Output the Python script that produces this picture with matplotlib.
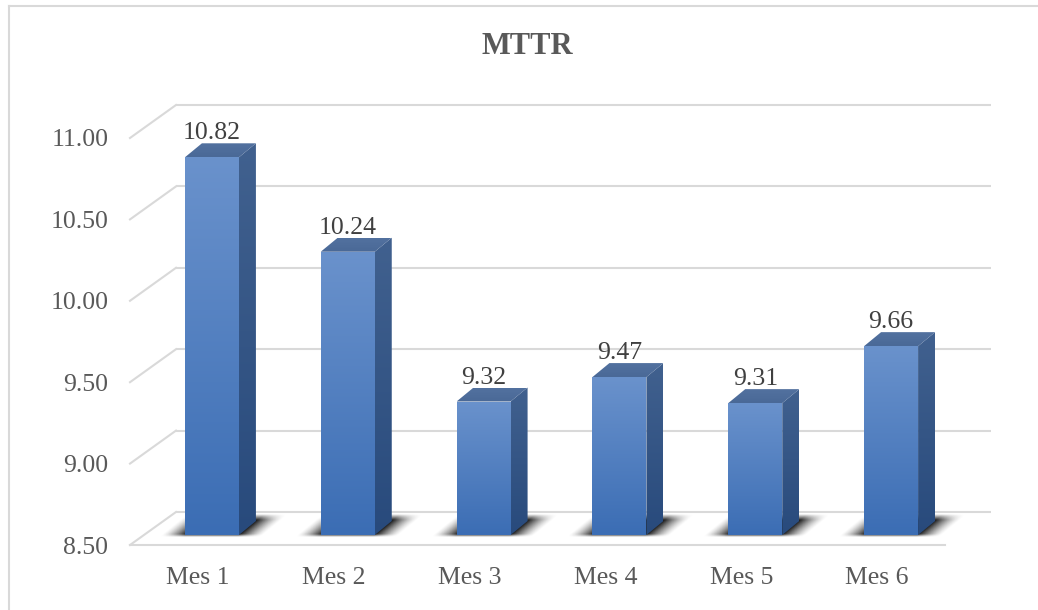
import numpy as np
import matplotlib
matplotlib.use("Agg")
import matplotlib.pyplot as plt
from matplotlib.patches import Polygon
from matplotlib.lines import Line2D
from matplotlib.colors import LinearSegmentedColormap

# ---- data ----
title = "MTTR"
categories = ["Mes 1", "Mes 2", "Mes 3", "Mes 4", "Mes 5", "Mes 6"]
mttr = [10.82, 10.24, 9.32, 9.47, 9.31, 9.66]
y_ticks = [8.50, 9.00, 9.50, 10.00, 10.50, 11.00]

# ---- figure / front plane of the 3-D box ----
W, H, DPI = 1038, 610, 100
fig = plt.figure(figsize=(W / DPI, H / DPI), dpi=DPI)
fig.patch.set_facecolor("white")

left_px, right_px, bottom_px, top_px = 130, 945, 545, 138
ax = fig.add_axes([left_px / W, 1 - bottom_px / H,
                   (right_px - left_px) / W, (bottom_px - top_px) / H])
ymin, ymax = y_ticks[0], y_ticks[-1]
xmin, xmax = -0.5, len(categories) - 0.5
ax.set_xlim(xmin, xmax)
ax.set_ylim(ymin, ymax)
ax.set_autoscale_on(False)
ax.patch.set_alpha(0)
for s in ax.spines.values():
    s.set_visible(False)

# pixel -> data conversion factors
sx = (xmax - xmin) / (right_px - left_px)
sy = (ymax - ymin) / (bottom_px - top_px)

# depth offsets (pixels, right/up) of the box walls and of the bars
WALL = (46, 33)
BAR_FRONT = (14, 10)
BAR_BACK = (31, 24)
BAR_HALF = 27

GRID = "#d9d9d9"
TEXT = "#595959"
SERIF = ["Liberation Serif", "DejaVu Serif"]

# ---- walls: gridlines on the back wall, diagonals on the side wall ----
wx, wy = WALL[0] * sx, WALL[1] * sy
for t in y_ticks:
    ax.plot([xmin + wx, xmax + wx], [t + wy, t + wy], color=GRID, lw=1.5,
            clip_on=False, zorder=1, solid_capstyle="butt")
    ax.plot([xmin, xmin + wx], [t, t + wy], color=GRID, lw=1.5,
            clip_on=False, zorder=1)
# front edge of the floor
ax.plot([xmin, xmax], [ymin, ymin], color=GRID, lw=1.5, clip_on=False, zorder=1)

# ---- floor shadows ----
gx = np.linspace(xmin, xmax + wx, 1400)
gy = np.linspace(ymin, ymin + 40 * sy, 160)
GX, GY = np.meshgrid(gx, gy)
Xp = (GX - xmin) / sx
Yp = (GY - ymin) / sy
alpha = np.zeros_like(Xp)
depth_dy = BAR_BACK[1] - BAR_FRONT[1]
depth_dx = BAR_BACK[0] - BAR_FRONT[0]
for i in range(len(categories)):
    fx = (i - xmin) / sx + BAR_FRONT[0] - BAR_HALF
    fy = BAR_FRONT[1]
    tt = (Yp - fy) / depth_dy
    ss = Xp - fx - tt * depth_dx
    ds = np.maximum(np.maximum(-ss, ss - 2 * BAR_HALF), 0)
    below = np.maximum(-tt * depth_dy + 1, 0)
    above = np.maximum((tt - 1) * depth_dy - 1, 0)
    a = (np.clip(1 - ds / 24, 0, 1) ** 1.4
         * np.clip(1 - below / 3, 0, 1)
         * np.clip(1 - above / 6, 0, 1))
    alpha = np.maximum(alpha, a * 0.92)
shadow = np.zeros(alpha.shape + (4,))
shadow[..., :3] = 0.05
shadow[..., 3] = alpha
ax.imshow(shadow, extent=(gx[0], gx[-1], gy[0], gy[-1]), origin="lower",
          aspect="auto", interpolation="bilinear", zorder=2, clip_on=False)


def gradient_face(verts, c_top, c_bottom, z):
    poly = Polygon(verts, closed=True, facecolor="none", edgecolor="none",
                   zorder=z)
    ax.add_patch(poly)
    xs = [p[0] for p in verts]
    ys = [p[1] for p in verts]
    cmap = LinearSegmentedColormap.from_list("face", [c_bottom, c_top])
    grad = np.linspace(0, 1, 256).reshape(-1, 1)
    im = ax.imshow(grad, cmap=cmap, extent=(min(xs), max(xs), min(ys), max(ys)),
                   origin="lower", aspect="auto", interpolation="bilinear",
                   zorder=z)
    im.set_clip_path(poly)


# ---- 3-D bars ----
fdx, fdy = BAR_FRONT[0] * sx, BAR_FRONT[1] * sy
bdx, bdy = BAR_BACK[0] * sx, BAR_BACK[1] * sy
hw = BAR_HALF * sx
for i, v in enumerate(mttr):
    x0, x1 = i - hw + fdx, i + hw + fdx
    y0, y1 = ymin + fdy, v + fdy
    ox, oy = bdx - fdx, bdy - fdy
    z = 3 + i * 0.01
    # front face
    gradient_face([(x0, y0), (x1, y0), (x1, y1), (x0, y1)],
                  "#6a92cc", "#3b6db4", z)
    # right side face
    gradient_face([(x1, y0), (x1 + ox, y0 + oy), (x1 + ox, y1 + oy), (x1, y1)],
                  "#41618f", "#284a7c", z)
    # top face
    gradient_face([(x0, y1), (x1, y1), (x1 + ox, y1 + oy), (x0 + ox, y1 + oy)],
                  "#52719f", "#4a6997", z)
    ax.annotate(f"{v:.2f}", xy=(i + fdx, v + fdy), xytext=(0, 18),
                textcoords="offset pixels", ha="center", va="baseline",
                fontsize=18.5, family=SERIF, color="#404040", zorder=5)

# ---- axes text ----
ax.set_yticks(y_ticks, [f"{t:.2f}" for t in y_ticks])
ax.set_xticks(range(len(categories)), categories)
ax.tick_params(axis="both", length=0, labelsize=18.5, labelcolor=TEXT)
ax.tick_params(axis="y", pad=15.5)
ax.tick_params(axis="x", pad=16)
for lab in ax.get_xticklabels() + ax.get_yticklabels():
    lab.set_family(SERIF)

fig.text(527 / W, 1 - 46 / H, title, ha="center", va="center",
         fontsize=22, fontweight="bold", family=SERIF, color=TEXT)

# chart area outline
fig.add_artist(Line2D([9 / W, 9 / W], [0, 1 - 6 / H], color=GRID, lw=1.5))
fig.add_artist(Line2D([9 / W, 1], [1 - 6 / H, 1 - 6 / H], color=GRID, lw=1.5))

fig.savefig("out.png", dpi=DPI, facecolor="white")
